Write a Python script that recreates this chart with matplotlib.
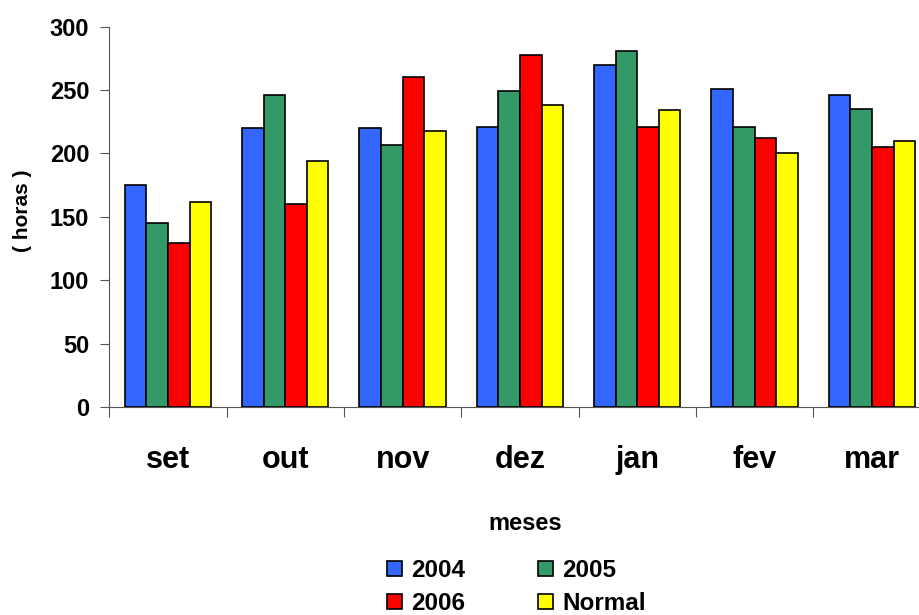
#!/usr/bin/env python

import numpy as np
import matplotlib.pyplot as plt

plt.rcParams['font.family'] = ['Liberation Sans', 'DejaVu Sans']
plt.rcParams['font.weight'] = 'bold'

months = ['set', 'out', 'nov', 'dez', 'jan', 'fev', 'mar']
series_names = ['2004', '2005', '2006', 'Normal']
v2004 = [175, 220, 220, 221, 270, 251, 246]
v2005 = [145, 246, 207, 249, 281, 221, 235]
v2006 = [129, 160, 260, 278, 221, 212, 205]
vnormal = [162, 194, 218, 238, 234, 200, 210]
colors = ['#3366ff', '#339966', '#ff0000', '#ffff00']
yticks = [0, 50, 100, 150, 200, 250, 300]


def main():
    fig = plt.figure(figsize=(9.2, 6.15), dpi=100)
    ax = fig.add_axes([0.1188, 0.3382, 0.8927, 0.6184])

    x = np.arange(len(months))
    w = 0.184
    bars = []
    for i, (vals, name) in enumerate(zip([v2004, v2005, v2006, vnormal], series_names)):
        b = ax.bar(x + (i - 1.5) * w, vals, width=w, color=colors[i],
                   edgecolor='black', linewidth=1.2, label=name, zorder=3)
        bars.append(b)

    ax.set_xlim(-0.5, len(months) - 0.5)
    ax.set_ylim(0, 300)
    ax.set_yticks(yticks)
    ax.set_yticklabels([str(t) for t in yticks], fontsize=17, fontweight='bold')

    # boundaries get tick marks, centres get the labels
    ax.set_xticks(np.arange(len(months) + 1) - 0.5)
    ax.set_xticklabels([])
    ax.set_xticks(x, minor=True)
    ax.set_xticklabels(months, minor=True, fontsize=22, fontweight='bold')
    ax.tick_params(axis='x', which='major', direction='out', length=7, color='#555555')
    ax.tick_params(axis='x', which='minor', length=0, pad=27)
    ax.tick_params(axis='y', direction='out', length=6.5, color='#555555', pad=8)

    for s in ['top', 'right']:
        ax.spines[s].set_visible(False)
    ax.spines['left'].set_color('#555555')
    ax.spines['bottom'].set_color('#555555')

    fig.text(23 / 920, 1 - 211 / 615, '( horas )', rotation=90, ha='center',
             va='center', fontsize=15, fontweight='bold')
    fig.text(0.571, 1 - 524 / 615, 'meses', ha='center', va='center',
             fontsize=17, fontweight='bold')

    # legend fills rows: 2004 2005 / 2006 Normal
    order = [0, 2, 1, 3]
    fig.legend([bars[k] for k in order], [series_names[k] for k in order],
               loc='center', bbox_to_anchor=(0.5615, 1 - 587 / 615), ncol=2,
               frameon=False, prop={'size': 17.5, 'weight': 'bold'},
               handlelength=0.6, handleheight=0.6, handletextpad=0.4,
               columnspacing=3.0, labelspacing=0.4, borderpad=0.2)

    plt.savefig('out.png', dpi=100)
    plt.close()


if __name__ == "__main__":
    main()
